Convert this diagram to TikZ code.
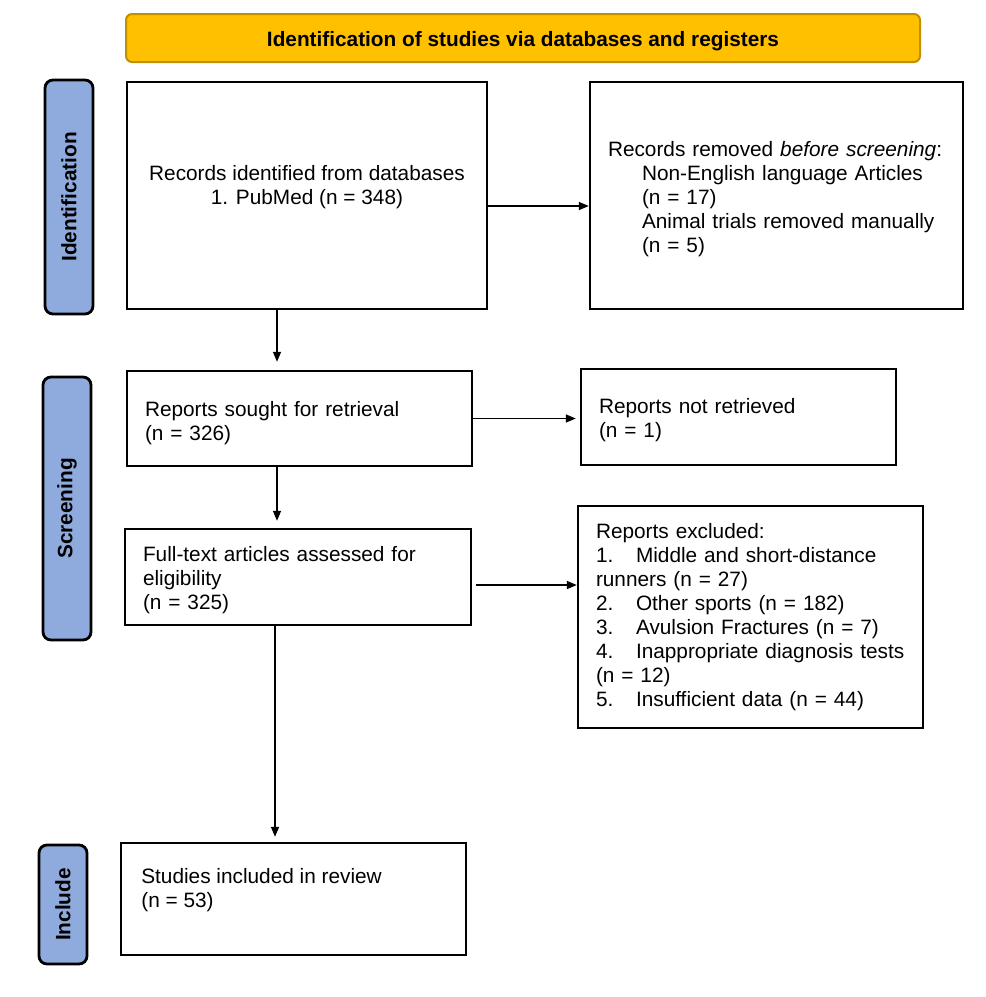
\documentclass[tikz,border=0pt]{standalone}
\usepackage{fontspec}
\setmainfont{Liberation Sans}
\usepackage{tikz}
\usetikzlibrary{positioning, calc, arrows.meta}

\definecolor{bannergold}{RGB}{255,192,0}
\definecolor{bannerrim}{RGB}{191,144,0}
\definecolor{stageblue}{RGB}{143,170,220}

\tikzset{
  txtsize/.style={font=\fontsize{20.8pt}{24pt}\selectfont},
  box/.style={draw, line width=2.4pt, txtsize, inner xsep=18pt, inner ysep=0pt, align=left},
  stage/.style={draw, fill=stageblue, line width=2.8pt, rounded corners=8pt, rotate=90, minimum height=48pt, font=\bfseries\fontsize{20.8pt}{24pt}\selectfont},
  arr/.style={line width=1.5pt, -{Triangle[length=10pt, width=8pt]}}
}

\begin{document}
\begin{tikzpicture}[x=1pt, y=-1pt]
\useasboundingbox (0,0) rectangle (986,997);

% header
\node[draw=bannerrim, fill=bannergold, line width=2pt, rounded corners=6pt, minimum width=794pt, minimum height=48pt, text height=21pt, text depth=4.4pt, font=\bfseries\fontsize{20.8pt}{24pt}\selectfont] (head) at (523,38) {Identification of studies via databases and registers};

% stages
\node[stage, minimum width=234pt] (stageid) at (69,197) {Identification};
\node[stage, minimum width=263pt] (stagescr) at (67,508.5) {Screening};
\node[stage, minimum width=119pt] (stageinc) at (63,904.5) {Include};

% identification
\node[box, minimum width=360pt, minimum height=227pt] (recs) at (307,195.5) {};
\node[txtsize, align=center] (recstxt) at ([yshift=8.5pt]recs.center) {Records identified from databases\\1. PubMed (n = 348)};
\node[box, text height=23pt, text width=337pt, minimum height=227pt] (removed) at (776.5,195.5) {Records removed \textit{before screening}:\\
  \hspace*{34pt}Non-English language Articles\\
  \hspace*{34pt}(n = 17)\\
  \hspace*{34pt}Animal trials removed manually\\
  \hspace*{34pt}(n = 5)};

% screening
\node[box, text height=25pt, text width=309pt, minimum height=95pt] (sought) at (299.5,418.5) {Reports sought for retrieval\\(n = 326)};
\node[box, text height=21pt, text width=279pt, minimum height=96pt] (notret) at (738.5,417) {Reports not retrieved\\(n = 1)};
\node[box, text height=21pt, text width=310pt, minimum height=96pt] (fulltext) at (298,577) {Full-text articles assessed for\\eligibility\\(n = 325)};
\node[box, text width=309pt, minimum height=222pt] (excluded) at (750.5,617) {Reports excluded:\\
  \makebox[40pt][l]{1.}Middle and short-distance\\
  runners (n = 27)\\
  \makebox[40pt][l]{2.}Other sports (n = 182)\\
  \makebox[40pt][l]{3.}Avulsion Fractures (n = 7)\\
  \makebox[40pt][l]{4.}Inappropriate diagnosis tests\\
  (n = 12)\\
  \makebox[40pt][l]{5.}Insufficient data (n = 44)};

% included
\node[box, minimum width=345pt, minimum height=112pt] (included) at (293.5,899) {};
\node[txtsize, align=left, anchor=west] (includedtxt) at ([xshift=18pt, yshift=9pt]included.west) {Studies included in review\\(n = 53)};

% arrows
\coordinate (lane) at (277,0);
\coordinate (lanelow) at (275,0);
\draw[arr] ([yshift=-10.5pt]recs.east) -- ([yshift=-10.5pt]removed.west);
\draw[arr, shorten >=8pt] (recs.south -| lane) -- (sought.north -| lane);
\draw[arr, shorten >=4pt] (sought.east) -- (sought.east -| notret.west);
\draw[arr, shorten >=7pt] (sought.south -| lane) -- (fulltext.north -| lane);
\draw[arr, shorten <=4pt] ([yshift=-8pt]fulltext.east) -- ([yshift=-8pt]fulltext.east -| excluded.west);
\draw[arr, shorten >=5pt] (fulltext.south -| lanelow) -- (included.north -| lanelow);
\end{tikzpicture}
\end{document}
